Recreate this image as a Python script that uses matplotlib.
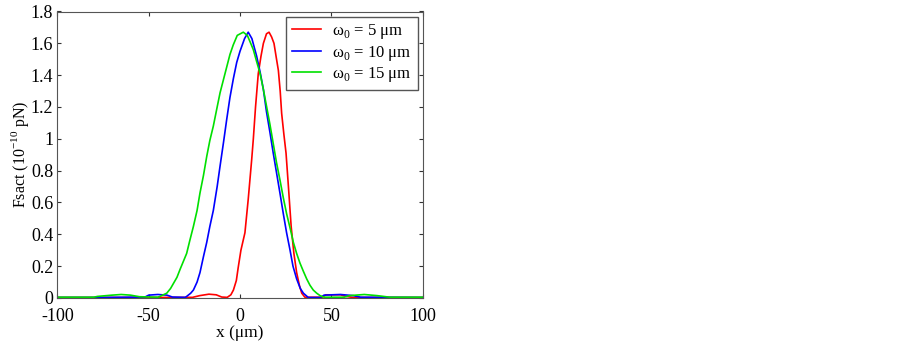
import numpy as np
import matplotlib.pyplot as plt

plt.rcParams['font.family'] = ['Liberation Serif', 'DejaVu Serif']
plt.rcParams['mathtext.fontset'] = 'custom'
plt.rcParams['mathtext.rm'] = 'Liberation Serif'
plt.rcParams['axes.unicode_minus'] = False

# red: w0 = 5 um
x_red = [-100, -60, -26, -22, -17, -13, -10, -7, -5, -3.6, -2, -1, 0.5, 2.7, 4.5, 6.4, 7.3, 8.5,
         10, 11.5, 12.8, 14.5, 15.9, 17.3, 18.6, 20, 21, 22, 22.8, 24, 25.2, 26.5, 28, 29.5, 31,
         32.5, 33.8, 35.5, 45, 47, 55, 58, 62, 100]
y_red = [0.003, 0.003, 0.004, 0.015, 0.024, 0.02, 0.006, 0.004, 0.02, 0.05, 0.11, 0.19, 0.30,
         0.41, 0.62, 0.87, 1.00, 1.20, 1.41, 1.52, 1.60, 1.66, 1.67, 1.64, 1.60, 1.50, 1.43, 1.30,
         1.16, 1.03, 0.91, 0.70, 0.45, 0.28, 0.16, 0.08, 0.03, 0.005, 0.005, 0.02, 0.02, 0.01,
         0.003, 0.003]

# blue: w0 = 10 um
x_blue = [-100, -80, -52, -50, -45, -40, -37, -30, -29.2, -27, -25.5, -23.5, -21.9, -20, -18.2,
          -16.5, -14.6, -12.5, -10.9, -9, -7.3, -5.5, -3.6, -1.8, 0, 2.5, 4.5, 6.5, 9.1, 11, 12.8,
          14.5, 16.4, 18.2, 20.1, 22, 23.7, 25.5, 27.4, 29, 31, 33, 34.7, 37.4, 44, 46, 55, 62, 66, 100]
y_blue = [0.003, 0.003, 0.006, 0.018, 0.022, 0.018, 0.006, 0.004, 0.01, 0.03, 0.05, 0.10, 0.16,
          0.26, 0.35, 0.45, 0.55, 0.70, 0.83, 0.98, 1.12, 1.26, 1.38, 1.48, 1.55, 1.63, 1.67, 1.63,
          1.52, 1.42, 1.31, 1.17, 1.04, 0.91, 0.78, 0.65, 0.53, 0.41, 0.30, 0.20, 0.12, 0.06, 0.03,
          0.003, 0.003, 0.018, 0.022, 0.015, 0.005, 0.003]

# green: w0 = 15 um
x_green = [-100, -80, -78, -70, -65, -60, -55, -45, -43.8, -42, -40.1, -38, -36.5, -34.5, -32.8,
           -31, -29.2, -27.5, -25.5, -23.5, -21.9, -20, -18.2, -16.5, -14.6, -12.5, -10.9, -9.1,
           -7.3, -5.5, -3.7, -1.5, 1.8, 4, 5.5, 7.3, 9, 11, 12.8, 14.6, 16.4, 18.2, 20, 21.9, 23.7,
           25.5, 27.4, 29.2, 31, 32.8, 34.6, 36.5, 38.3, 40.1, 42, 43.8, 46, 57, 60, 68, 75, 82, 100]
y_green = [0.005, 0.005, 0.01, 0.018, 0.022, 0.018, 0.008, 0.005, 0.01, 0.02, 0.03, 0.06, 0.09,
           0.13, 0.18, 0.23, 0.28, 0.36, 0.45, 0.55, 0.66, 0.77, 0.89, 0.99, 1.08, 1.20, 1.29, 1.37,
           1.45, 1.53, 1.59, 1.65, 1.67, 1.65, 1.61, 1.56, 1.49, 1.41, 1.31, 1.20, 1.09, 0.97, 0.85,
           0.74, 0.63, 0.53, 0.44, 0.35, 0.28, 0.22, 0.17, 0.12, 0.08, 0.05, 0.03, 0.015, 0.005,
           0.005, 0.015, 0.022, 0.015, 0.005, 0.005]

labels = [r"ω$_\mathregular{0}$ = 5 μm", r"ω$_\mathregular{0}$ = 10 μm", r"ω$_\mathregular{0}$ = 15 μm"]

fig = plt.figure(figsize=(9.03, 3.42), dpi=100)
ax = fig.add_axes([57.3/903, 44/342, 365.4/903, 286.5/342])

ax.plot(x_red, y_red, color='#ff0000', linewidth=1.2, label=labels[0])
ax.plot(x_blue, y_blue, color='#0000ff', linewidth=1.2, label=labels[1])
ax.plot(x_green, y_green, color='#00e000', linewidth=1.2, label=labels[2])

ax.set_xlim(-100, 100)
ax.set_ylim(0, 1.8)
ax.set_xticks([-100, -50, 0, 50, 100])
ax.set_yticks(np.arange(0, 1.81, 0.2))
ax.set_yticklabels(['0', '0.2', '0.4', '0.6', '0.8', '1', '1.2', '1.4', '1.6', '1.8'])
ax.tick_params(direction='in', top=True, right=True, length=3, labelsize=13, colors='#333333',
               labelcolor='black', pad=3)
ax.tick_params(axis='x', pad=7)
for s in ax.spines.values():
    s.set_color('#555555')

ax.set_xlabel("x (μm)", fontsize=12.5, labelpad=0)
ax.set_ylabel(r"Fsact (10$^\mathregular{-10}$ pN)", fontsize=11.5, labelpad=0)

leg = ax.legend(loc='upper right', fontsize=12, fancybox=False, framealpha=1,
                edgecolor='#555555', handlelength=1.75, borderpad=0.35, labelspacing=0.15,
                borderaxespad=0.3, handletextpad=0.65)
leg.get_frame().set_linewidth(1.0)

plt.savefig("out.png", dpi=100, facecolor="white")
